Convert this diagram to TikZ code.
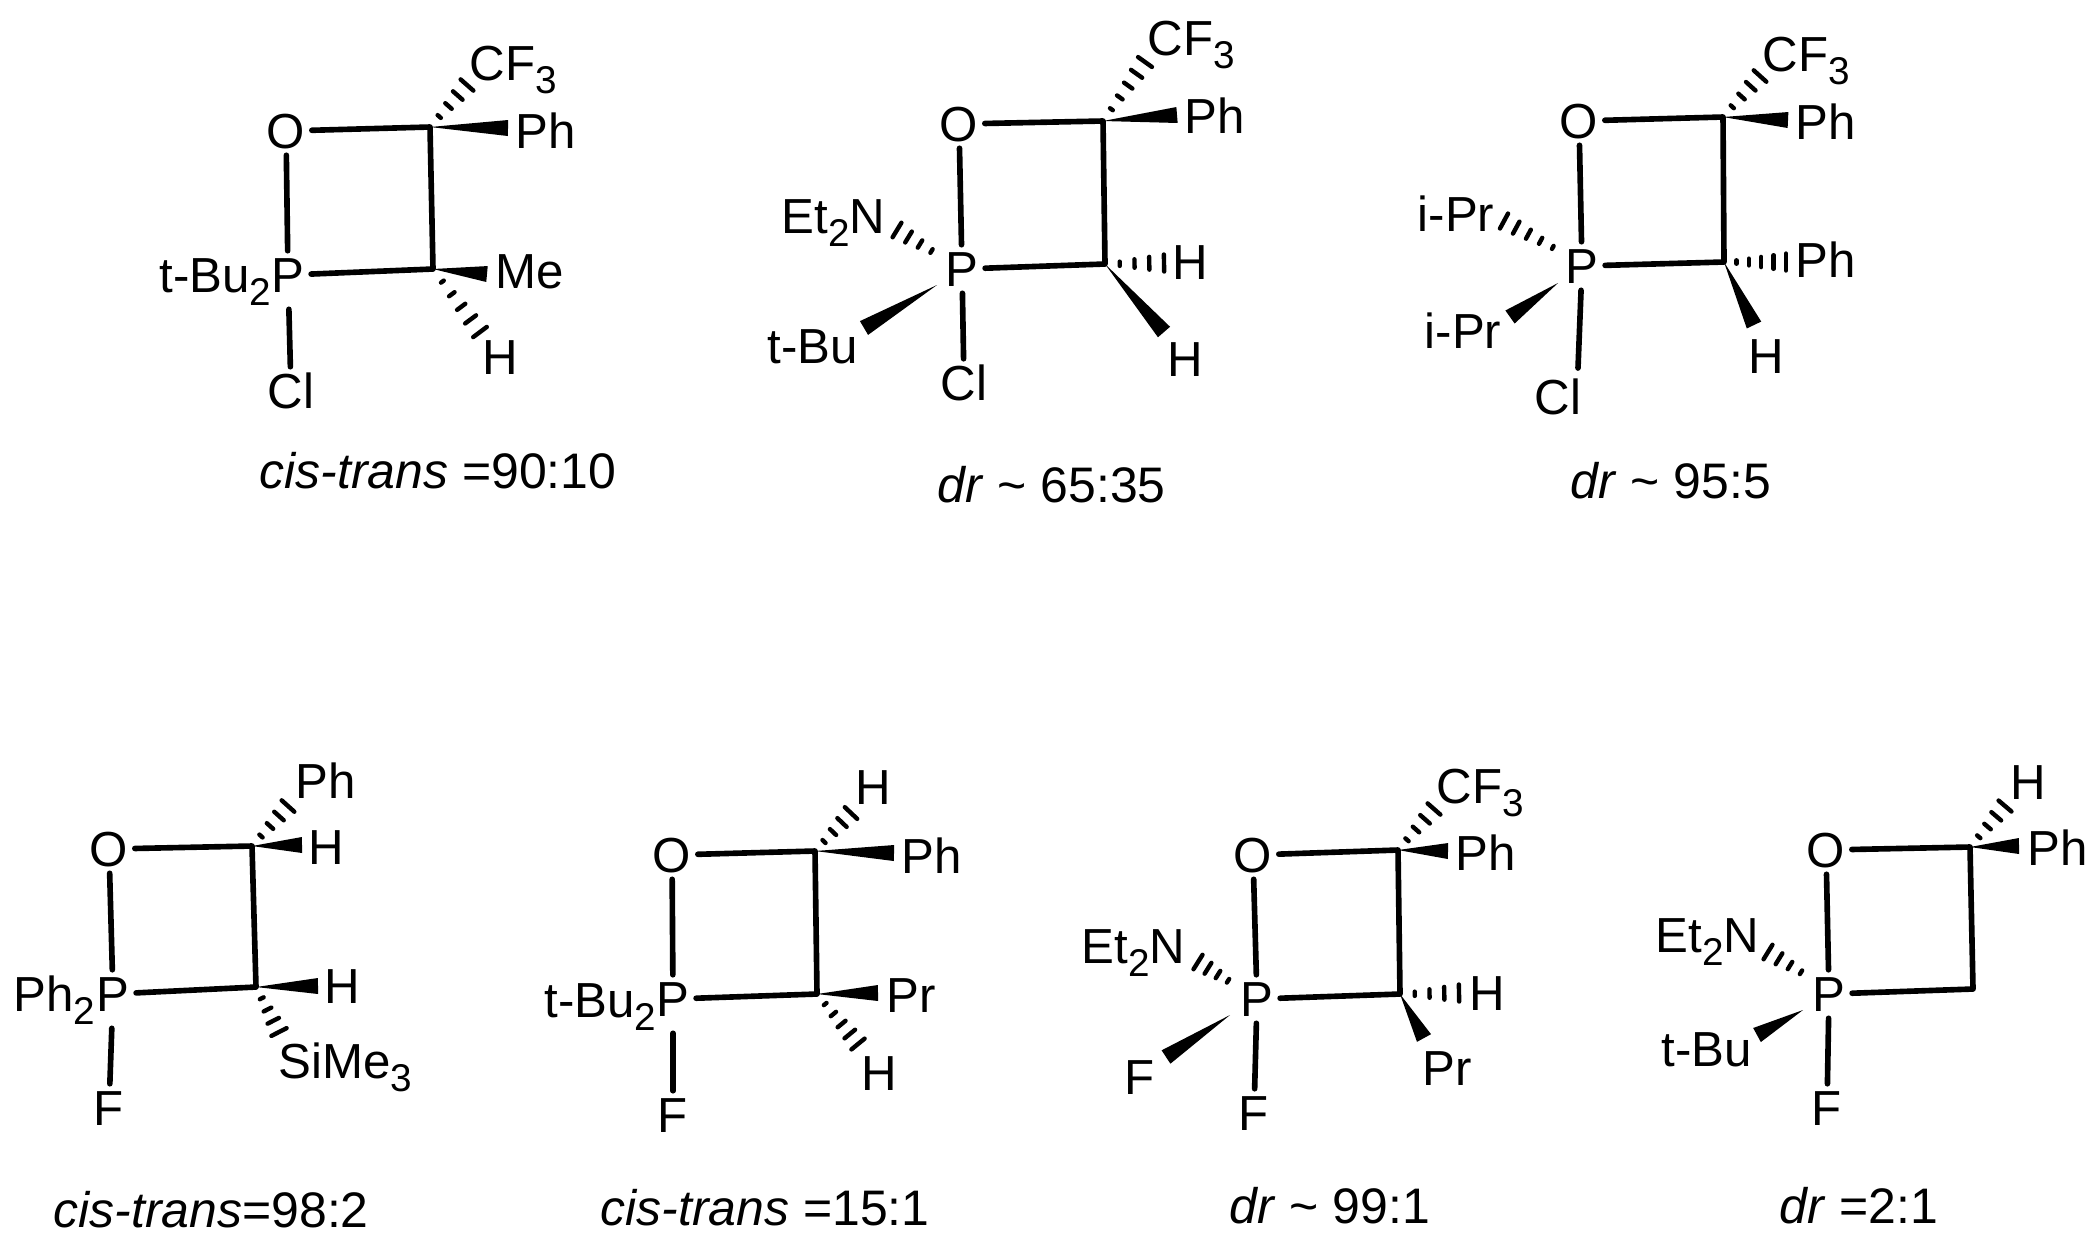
\documentclass[tikz,border=0pt]{standalone}
\usepackage{fontspec}
\setmainfont{Liberation Sans}
\usepackage{tikz}
\usetikzlibrary{calc}

\newcommand{\chemsub}[1]{\raisebox{-0.27em}{\fontsize{11}{13}\selectfont #1}}
\newcommand{\wedgebond}[2]{\fill ($(#2)!0.08cm!90:(#1)$) -- ($(#2)!0.08cm!-90:(#1)$) -- (#1) -- cycle;}
\newcommand{\hashbond}[3]{%
    \foreach \stripe in {1,...,#3}{%
        \pgfmathsetmacro{\frc}{\stripe/#3}%
        \pgfmathsetmacro{\hw}{0.085*\stripe/#3}%
        \coordinate (m) at ($(#1)!\frc!(#2)$);
        \draw[hash] ($(m)!\hw cm!90:(#1)$) -- ($(m)!\hw cm!-90:(#1)$);
    }%
}
\tikzset{
    bond/.style={line width=1.6pt, line cap=round, line join=round},
    hash/.style={line width=1.25pt, line cap=round},
    atom/.style={inner sep=1.7pt, text height=10pt, text depth=0pt, font=\fontsize{14}{17}\selectfont},
    lbl/.style={inner sep=0pt, anchor=base west, font=\fontsize{14}{17}\selectfont},
    lble/.style={lbl, anchor=base east},
    ratio/.style={inner sep=0pt, anchor=base west, font=\fontsize{14.2}{17}\selectfont},
}

\begin{document}
\begin{tikzpicture}[x=0.01cm, y=-0.01cm]
    \useasboundingbox (0, 0) rectangle (2097, 1244);

    % top row, first
    \node[atom] at (286, 131) (o1) {O};
    \node[atom] at (288, 275) (p1) {P};
    \node[atom] at (291, 391) (cl1) {Cl};
    \coordinate (c11) at (430, 127);
    \coordinate (c12) at (433, 269);
    \coordinate (ph1e) at (508, 128);
    \coordinate (me1e) at (487, 274);
    \coordinate (cf1e) at (467, 85);
    \coordinate (h1e) at (480, 332);
    \node[lble] at (272, 292) (tbu1) {t-Bu\chemsub{2}};
    \node[lbl] at (469, 80) (cf1) {CF\chemsub{3}};
    \node[lbl] at (515, 148) (ph1) {Ph};
    \node[lbl] at (495, 288) (me1) {Me};
    \node[lbl] at (482, 374) (h1) {H};
    \draw[bond] (o1) -- (c11) -- (c12) -- (p1);
    \draw[bond] (o1) -- (p1);
    \draw[bond, shorten <=0.1cm] (p1) -- (cl1);
    \wedgebond{c11}{ph1e}
    \wedgebond{c12}{me1e}
    \hashbond{c11}{cf1e}{4}
    \hashbond{c12}{h1e}{5}
    \node[ratio] at (259, 488) (r1) {\textit{cis-trans} =90:10};

    % top row, second
    \node[atom] at (959, 124) (o2) {O};
    \node[atom] at (962, 269) (p2) {P};
    \node[atom] at (964, 383) (cl2) {Cl};
    \coordinate (c21) at (1103, 121);
    \coordinate (c22) at (1105, 264);
    \coordinate (ph2e) at (1177, 115);
    \coordinate (h2we) at (1164, 332);
    \coordinate (cf2e) at (1145, 62);
    \coordinate (h2he) at (1164, 263);
    \coordinate (p2w) at (937, 285);
    \coordinate (tbu2e) at (864, 328);
    \coordinate (p2h) at (943, 258);
    \coordinate (et2e) at (897, 230);
    \node[lbl] at (1147, 55) (cf2) {CF\chemsub{3}};
    \node[lbl] at (1184, 133) (ph2) {Ph};
    \node[lbl] at (1172, 279) (h2a) {H};
    \node[lbl] at (1167, 376) (h2b) {H};
    \node[lbl] at (781, 233) (et2) {Et\chemsub{2}N};
    \node[lbl] at (767, 363) (tbu2) {t-Bu};
    \draw[bond] (o2) -- (c21) -- (c22) -- (p2);
    \draw[bond] (o2) -- (p2);
    \draw[bond] (p2) -- (cl2);
    \wedgebond{c21}{ph2e}
    \wedgebond{c22}{h2we}
    \wedgebond{p2w}{tbu2e}
    \hashbond{c21}{cf2e}{5}
    \hashbond{c22}{h2he}{4}
    \hashbond{p2h}{et2e}{4}
    \node[ratio] at (937, 502) (r2) {\textit{dr} \textasciitilde{} 65:35};

    % top row, third
    \node[atom] at (1579, 121) (o3) {O};
    \node[atom] at (1582, 266) (p3) {P};
    \node[atom] at (1558, 397) (cl3) {Cl};
    \coordinate (c31) at (1723, 117);
    \coordinate (c32) at (1724, 262);
    \coordinate (cl3e) at (1578, 368);
    \coordinate (ph3e) at (1788, 120);
    \coordinate (h3e) at (1754, 325);
    \coordinate (cf3e) at (1760, 76);
    \coordinate (ph3f) at (1786, 262);
    \coordinate (p3w) at (1558, 283);
    \coordinate (ipr3e) at (1510, 317);
    \coordinate (p3h) at (1565, 254);
    \coordinate (ipr3f) at (1504, 221);
    \node[lbl] at (1762, 71) (cf3) {CF\chemsub{3}};
    \node[lbl] at (1795, 139) (ph3a) {Ph};
    \node[lbl] at (1795, 277) (ph3b) {Ph};
    \node[lbl] at (1748, 373) (h3) {H};
    \node[lbl] at (1417, 231) (ipr3a) {i-Pr};
    \node[lbl] at (1424, 348) (ipr3b) {i-Pr};
    \draw[bond] (o3) -- (c31) -- (c32) -- (p3);
    \draw[bond] (o3) -- (p3);
    \draw[bond] (p3) -- (cl3e);
    \wedgebond{c31}{ph3e}
    \wedgebond{c32}{h3e}
    \wedgebond{p3w}{ipr3e}
    \hashbond{c31}{cf3e}{4}
    \hashbond{c32}{ph3f}{5}
    \hashbond{p3h}{ipr3f}{5}
    \node[ratio] at (1570, 498) (r3) {\textit{dr} \textasciitilde{} 95:5};

    % bottom row, first
    \node[atom] at (109, 849) (o4) {O};
    \node[atom] at (113, 994) (p4) {P};
    \node[atom] at (109, 1108) (f4) {F};
    \coordinate (c41) at (252, 846);
    \coordinate (c42) at (256, 987);
    \coordinate (h4e) at (302, 845);
    \coordinate (h4f) at (318, 986);
    \coordinate (ph4e) at (288, 806);
    \coordinate (si4e) at (279, 1032);
    \node[lble] at (96, 1011) (ph4b) {Ph\chemsub{2}};
    \node[lbl] at (295, 798) (ph4a) {Ph};
    \node[lbl] at (308, 864) (h4a) {H};
    \node[lbl] at (324, 1003) (h4b) {H};
    \node[lbl] at (278, 1078) (si4) {SiMe\chemsub{3}};
    \draw[bond] (o4) -- (c41) -- (c42) -- (p4);
    \draw[bond] (o4) -- (p4);
    \draw[bond, shorten <=0.1cm] (p4) -- (f4);
    \wedgebond{c41}{h4e}
    \wedgebond{c42}{h4f}
    \hashbond{c41}{ph4e}{4}
    \hashbond{c42}{si4e}{4}
    \node[ratio] at (53, 1227) (r4) {\textit{cis-trans}=98:2};

    % bottom row, second
    \node[atom] at (672, 855) (o5) {O};
    \node[atom] at (673, 999) (p5) {P};
    \node[atom] at (673, 1115) (f5) {F};
    \coordinate (c51) at (815, 851);
    \coordinate (c52) at (817, 994);
    \coordinate (ph5e) at (894, 853);
    \coordinate (pr5e) at (878, 993);
    \coordinate (h5e) at (851, 813);
    \coordinate (h5f) at (858, 1044);
    \node[lble] at (657, 1017) (tbu5) {t-Bu\chemsub{2}};
    \node[lbl] at (855, 804) (h5a) {H};
    \node[lbl] at (901, 873) (ph5) {Ph};
    \node[lbl] at (886, 1012) (pr5) {Pr};
    \node[lbl] at (861, 1090) (h5b) {H};
    \draw[bond] (o5) -- (c51) -- (c52) -- (p5);
    \draw[bond] (o5) -- (p5);
    \draw[bond, shorten <=0.1cm] (p5) -- (f5);
    \wedgebond{c51}{ph5e}
    \wedgebond{c52}{pr5e}
    \hashbond{c51}{h5e}{4}
    \hashbond{c52}{h5f}{5}
    \node[ratio] at (600, 1225) (r5) {\textit{cis-trans} =15:1};

    % bottom row, third
    \node[atom] at (1253, 855) (o6) {O};
    \node[atom] at (1257, 999) (p6) {P};
    \node[atom] at (1254, 1113) (f6b) {F};
    \coordinate (c61) at (1398, 850);
    \coordinate (c62) at (1400, 994);
    \coordinate (ph6e) at (1448, 851);
    \coordinate (pr6e) at (1424, 1038);
    \coordinate (p6w) at (1230, 1015);
    \coordinate (f6e) at (1166, 1057);
    \coordinate (cf6e) at (1434, 809);
    \coordinate (h6e) at (1459, 993);
    \coordinate (p6h) at (1238, 987);
    \coordinate (et6e) at (1198, 962);
    \node[lbl] at (1436, 803) (cf6) {CF\chemsub{3}};
    \node[lbl] at (1455, 870) (ph6) {Ph};
    \node[lbl] at (1469, 1010) (h6) {H};
    \node[lbl] at (1422, 1085) (pr6) {Pr};
    \node[lbl] at (1081, 963) (et6) {Et\chemsub{2}N};
    \node[atom] at (1140, 1077) (f6a) {F};
    \draw[bond] (o6) -- (c61) -- (c62) -- (p6);
    \draw[bond] (o6) -- (p6);
    \draw[bond] (p6) -- (f6b);
    \wedgebond{c61}{ph6e}
    \wedgebond{c62}{pr6e}
    \wedgebond{p6w}{f6e}
    \hashbond{c61}{cf6e}{4}
    \hashbond{c62}{h6e}{4}
    \hashbond{p6h}{et6e}{4}
    \node[ratio] at (1229, 1223) (r6) {\textit{dr} \textasciitilde{} 99:1};

    % bottom row, fourth
    \node[atom] at (1826, 850) (o7) {O};
    \node[atom] at (1829, 994) (p7) {P};
    \node[atom] at (1827, 1108) (f7) {F};
    \coordinate (c71) at (1970, 847);
    \coordinate (c72) at (1973, 989);
    \coordinate (ph7e) at (2019, 846);
    \coordinate (p7w) at (1803, 1010);
    \coordinate (tbu7e) at (1757, 1035);
    \coordinate (h7e) at (2005, 806);
    \coordinate (p7h) at (1812, 979);
    \coordinate (et7e) at (1768, 952);
    \node[lbl] at (2010, 799) (h7) {H};
    \node[lbl] at (2027, 865) (ph7) {Ph};
    \node[lbl] at (1655, 952) (et7) {Et\chemsub{2}N};
    \node[lbl] at (1661, 1066) (tbu7) {t-Bu};
    \draw[bond] (o7) -- (c71) -- (c72) -- (p7);
    \draw[bond] (o7) -- (p7);
    \draw[bond] (p7) -- (f7);
    \wedgebond{c71}{ph7e}
    \wedgebond{p7w}{tbu7e}
    \hashbond{c71}{h7e}{4}
    \hashbond{p7h}{et7e}{4}
    \node[ratio] at (1779, 1223) (r7) {\textit{dr} =2:1};
\end{tikzpicture}
\end{document}
